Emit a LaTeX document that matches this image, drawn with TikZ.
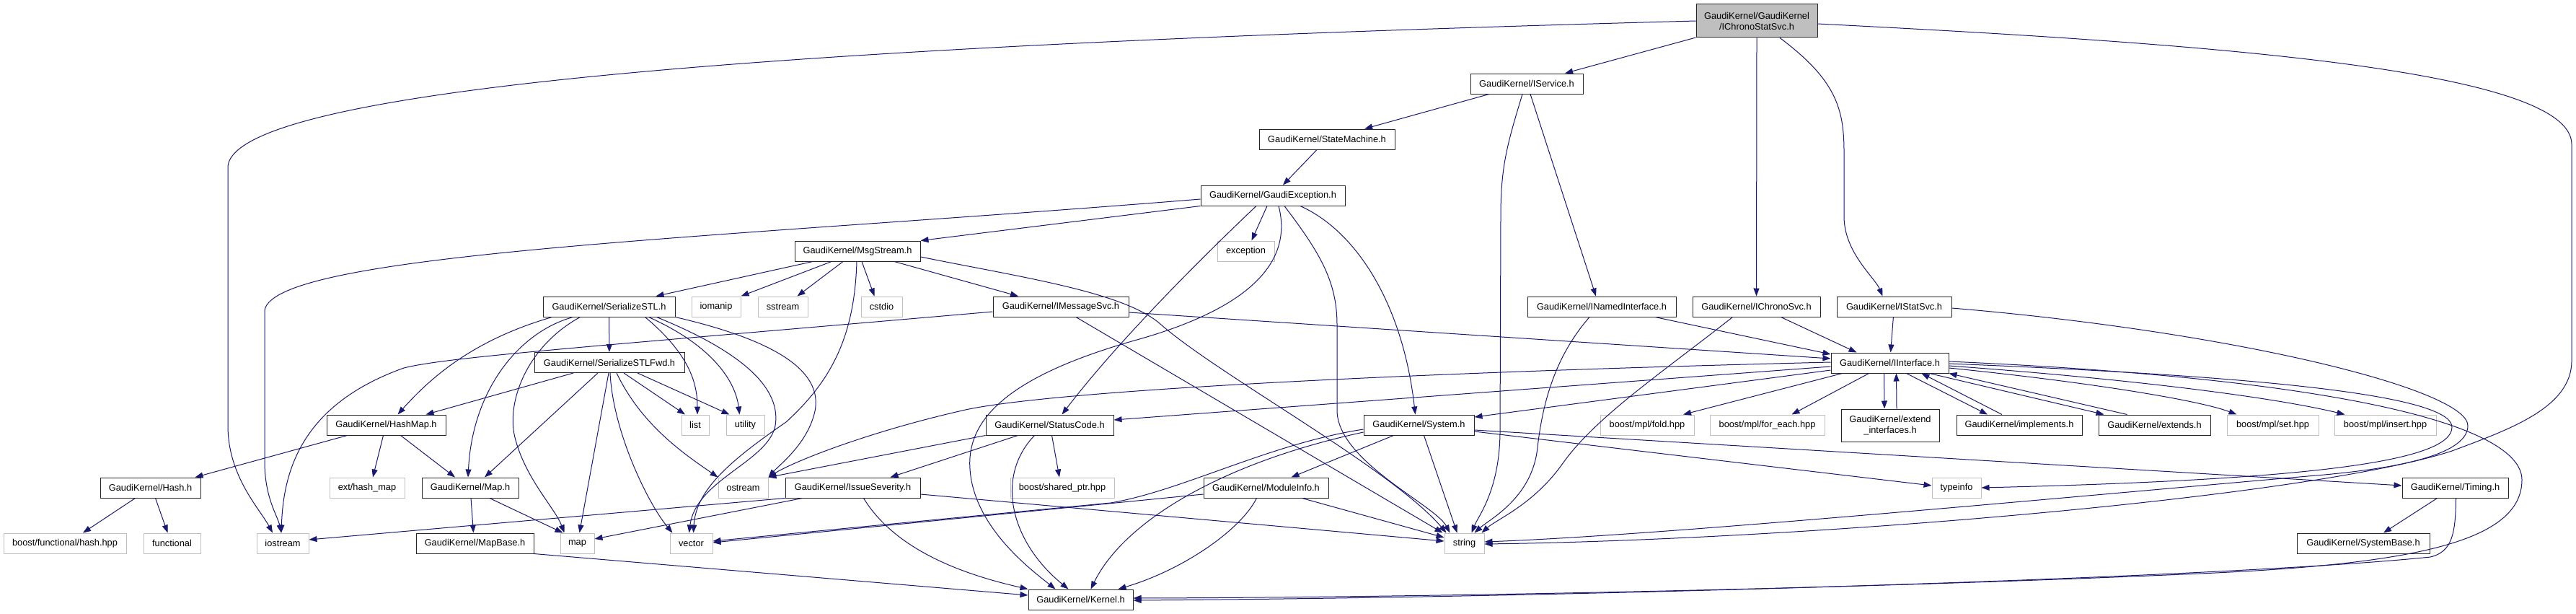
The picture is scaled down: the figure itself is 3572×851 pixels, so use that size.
\documentclass[tikz,border=0pt]{standalone}
\usepackage{fontspec}
\setmainfont{Liberation Sans}
\usetikzlibrary{arrows.meta}
\definecolor{edgec}{HTML}{191970}
\definecolor{grayb}{HTML}{BFBFBF}
\begin{document}
\begin{tikzpicture}[x=1pt,y=-1pt,
  font=\fontsize{12.8}{15}\selectfont,
  gk/.style={draw=black!85,line width=1pt,fill=white,rectangle,inner sep=0pt,minimum height=28pt,align=center},
  sys/.style={draw=grayb,line width=1pt,fill=white,rectangle,inner sep=0pt,minimum height=28pt,align=center},
  topn/.style={gk,fill=grayb,minimum height=46pt},
  e/.style={draw=edgec,line width=1pt,-{Triangle[length=11pt,width=8pt]}}]
\useasboundingbox[fill=white] (0,0) rectangle (3572,851);
% ---- nodes
\node[topn,minimum width=168pt] (top) at (2436,29) {GaudiKernel/GaudiKernel\\/IChronoStatSvc.h};
\node[gk,minimum width=156pt] (IService) at (2117,116) {GaudiKernel/IService.h};
\node[gk,minimum width=188pt] (StateMachine) at (1840,193) {GaudiKernel/StateMachine.h};
\node[gk,minimum width=200pt] (GaudiException) at (1765,271) {GaudiKernel/GaudiException.h};
\node[gk,minimum width=174pt] (MsgStream) at (1189,348) {GaudiKernel/MsgStream.h};
\node[sys,minimum width=79pt] (exception) at (1727.5,348) {exception};
\node[gk,minimum width=183pt] (SerializeSTL) at (844.5,425) {GaudiKernel/SerializeSTL.h};
\node[sys,minimum width=68pt] (iomanip) at (993,425) {iomanip};
\node[sys,minimum width=69pt] (sstream) at (1085.5,425) {sstream};
\node[sys,minimum width=57pt] (cstdio) at (1222.5,425) {cstdio};
\node[gk,minimum width=188pt] (IMessageSvc) at (1471,425) {GaudiKernel/IMessageSvc.h};
\node[gk,minimum width=206pt] (INamedInterface) at (2221,425) {GaudiKernel/INamedInterface.h};
\node[gk,minimum width=177pt] (IChronoSvc) at (2435.5,425) {GaudiKernel/IChronoSvc.h};
\node[gk,minimum width=159pt] (IStatSvc) at (2626.5,425) {GaudiKernel/IStatSvc.h};
\node[gk,minimum width=208pt] (Fwd) at (845,502.5) {GaudiKernel/SerializeSTLFwd.h};
\node[gk,minimum width=163pt] (Interface) at (2620.5,503) {GaudiKernel/IInterface.h};
\node[gk,minimum width=165pt] (HashMap) at (535.5,589) {GaudiKernel/HashMap.h};
\node[sys,minimum width=38pt] (list) at (964,589) {list};
\node[sys,minimum width=53pt] (utility) at (1033.5,589) {utility};
\node[gk,minimum width=177pt] (StatusCode) at (1455.5,589) {GaudiKernel/StatusCode.h};
\node[gk,minimum width=153pt] (System) at (1967.5,589) {GaudiKernel/System.h};
\node[sys,minimum width=130pt] (fold) at (2284,589) {boost/mpl/fold.hpp};
\node[sys,minimum width=159pt] (foreach) at (2450.5,589) {boost/mpl/for\_each.hpp};
\node[gk,minimum width=136pt,minimum height=45pt] (extendif) at (2621,589.5) {GaudiKernel/extend\\\_interfaces.h};
\node[gk,minimum width=174pt] (implements) at (2800,589) {GaudiKernel/implements.h};
\node[gk,minimum width=155pt] (extends) at (2987.5,589) {GaudiKernel/extends.h};
\node[sys,minimum width=127pt] (set) at (3151.5,589) {boost/mpl/set.hpp};
\node[sys,minimum width=141pt] (insert) at (3307.5,589) {boost/mpl/insert.hpp};
\node[gk,minimum width=139pt] (Hash) at (208.5,676) {GaudiKernel/Hash.h};
\node[sys,minimum width=104pt] (exthashmap) at (509,676) {ext/hash\_map};
\node[gk,minimum width=134pt] (Map) at (652,676) {GaudiKernel/Map.h};
\node[sys,minimum width=69pt] (ostream) at (1030.5,676) {ostream};
\node[gk,minimum width=187pt] (IssueSeverity) at (1182.5,676) {GaudiKernel/IssueSeverity.h};
\node[sys,minimum width=144pt] (sharedptr) at (1473,676) {boost/shared\_ptr.hpp};
\node[gk,minimum width=173pt] (ModuleInfo) at (1755.5,676) {GaudiKernel/ModuleInfo.h};
\node[sys,minimum width=68pt] (typeinfo) at (2713,676) {typeinfo};
\node[gk,minimum width=147pt] (Timing) at (3404.5,676) {GaudiKernel/Timing.h};
\node[sys,minimum width=170pt] (boosthash) at (90,753) {boost/functional/hash.hpp};
\node[sys,minimum width=79pt] (functional) at (238.5,753) {functional};
\node[sys,minimum width=72pt] (iostream) at (392,753) {iostream};
\node[gk,minimum width=163pt] (MapBase) at (658.5,753) {GaudiKernel/MapBase.h};
\node[sys,minimum width=47pt] (map) at (800.5,753) {map};
\node[sys,minimum width=59pt] (vector) at (958.5,753) {vector};
\node[sys,minimum width=55pt] (string) at (2030.5,753) {string};
\node[gk,minimum width=184pt] (SystemBase) at (3277,753) {GaudiKernel/SystemBase.h};
\node[gk,minimum width=145pt] (Kernel) at (1498.5,831) {GaudiKernel/Kernel.h};
% ---- edges
\draw[e] (top) -- (IService);
\draw[e] (top.south) -- (IChronoSvc.north);
\draw[e] ([xshift=32]top.south) .. controls (2545,110) and (2557,150) .. (2557,210) -- (2557,300) .. controls (2557,350) and (2600,385) .. ([xshift=-16]IStatSvc.north);
\draw[e] (top.west) .. controls (1200,60) and (330,115) .. (316,230) -- (316,590) .. controls (316,660) and (360,705) .. ([xshift=-14]iostream.north);
\draw[e] ([yshift=-4]top.east) .. controls (3050,60) and (3566,95) .. (3566,200) -- (3566,500) .. controls (3566,565) and (3480,595) .. (3400,625) .. controls (3200,690) and (2500,748) .. ([yshift=-1]string.east);
\draw[e] (IService) -- (StateMachine);
\draw[e] ([xshift=-6]IService.south) .. controls (2090,200) and (2081,230) .. (2081,300) -- (2080,600) .. controls (2079,680) and (2050,715) .. ([xshift=10]string.north);
\draw[e] ([xshift=5]IService.south) -- ([xshift=-8]INamedInterface.north);
\draw[e] (StateMachine) -- (GaudiException);
\draw[e] ([yshift=-5]GaudiException.west) .. controls (1000,330) and (380,350) .. (367,430) -- (367,640) .. controls (367,690) and (385,715) .. ([xshift=-2]iostream.north);
\draw[e] (GaudiException.south west) -- (MsgStream.north east);
\draw[e] ([xshift=-8]GaudiException.south) -- ([xshift=8]exception.north);
\draw[e] ([xshift=-23]GaudiException.south) .. controls (1695,330) and (1560,460) .. ([xshift=17]StatusCode.north);
\draw[e] ([xshift=8]GaudiException.south) .. controls (1795,370) and (1720,430) .. (1580,470) .. controls (1400,520) and (1340,580) .. (1345,650) .. controls (1350,730) and (1430,790) .. ([xshift=-35]Kernel.north);
\draw[e] ([xshift=16]GaudiException.south) .. controls (1830,350) and (1854,390) .. (1854,450) -- (1854,570) .. controls (1856,640) and (1990,700) .. ([xshift=-20]string.north);
\draw[e] ([xshift=38]GaudiException.south) .. controls (1880,320) and (1945,420) .. ([xshift=-5]System.north);
\draw[e] ([xshift=-62]MsgStream.south) -- ([xshift=65]SerializeSTL.north);
\draw[e] ([xshift=-36]MsgStream.south) -- (iomanip.north east);
\draw[e] ([xshift=-20]MsgStream.south) -- ([xshift=20]sstream.north);
\draw[e] ([xshift=6]MsgStream.south) -- ([xshift=-10]cstdio.north);
\draw[e] ([xshift=51]MsgStream.south) -- ([xshift=-59]IMessageSvc.north);
\draw[e] ([yshift=-8]MsgStream.east) .. controls (1420,385) and (1560,405) .. (1610,450) .. controls (1690,520) and (1930,650) .. ([xshift=-25]string.north);
\draw[e] ([xshift=-1]MsgStream.south) .. controls (1185,470) and (1150,530) .. (1090,585) .. controls (1010,640) and (965,680) .. ([xshift=3]vector.north);
\draw[e] (SerializeSTL) -- (Fwd);
\draw[e] ([xshift=-79]SerializeSTL.south) .. controls (660,470) and (600,520) .. ([xshift=16]HashMap.north);
\draw[e] ([xshift=-50]SerializeSTL.south) .. controls (720,460) and (655,540) .. ([xshift=-3]Map.north);
\draw[e] ([xshift=-40]SerializeSTL.south) .. controls (730,480) and (700,560) .. (715,610) .. controls (730,665) and (770,705) .. ([xshift=-18]map.north);
\draw[e] ([xshift=50]SerializeSTL.south) .. controls (955,490) and (967,530) .. ([xshift=3]list.north);
\draw[e] ([xshift=55]SerializeSTL.south) .. controls (990,480) and (1020,530) .. ([xshift=-8]utility.north);
\draw[e] ([xshift=66]SerializeSTL.south) .. controls (1010,480) and (1085,530) .. (1075,590) .. controls (1065,640) and (965,665) .. ([xshift=-3]vector.north);
\draw[e] (SerializeSTL.south east) .. controls (1090,475) and (1140,520) .. (1130,570) .. controls (1120,615) and (1080,645) .. (ostream.north east);
\draw[e] ([xshift=-50]Fwd.south) -- ([xshift=55]HashMap.north);
\draw[e] ([xshift=-16]Fwd.south) -- ([xshift=20]Map.north);
\draw[e] ([xshift=-1]Fwd.south) -- ([xshift=3]map.north);
\draw[e] ([xshift=1]Fwd.south) .. controls (850,600) and (900,700) .. ([xshift=-26]vector.north);
\draw[e] ([xshift=10]Fwd.south) .. controls (890,590) and (950,630) .. (ostream.north west);
\draw[e] ([xshift=20]Fwd.south) -- ([xshift=-14]list.north);
\draw[e] ([xshift=39]Fwd.south) -- ([xshift=-22]utility.north);
\draw[e] ([xshift=-54]HashMap.south) -- ([xshift=62]Hash.north);
\draw[e] ([xshift=-4]HashMap.south) -- ([xshift=8]exthashmap.north);
\draw[e] ([xshift=20]HashMap.south) -- ([xshift=-21]Map.north);
\draw[e] ([xshift=-21]Hash.south) -- ([xshift=25]boosthash.north);
\draw[e] ([xshift=7]Hash.south) -- ([xshift=-6]functional.north);
\draw[e] ([xshift=1]Map.south) -- ([xshift=-2]MapBase.north);
\draw[e] ([xshift=27]Map.south) -- ([xshift=-20]map.north);
\draw[e] (MapBase.south east) -- ([yshift=6]Kernel.west);
\draw[e] ([yshift=-7]IMessageSvc.west) .. controls (800,482) and (620,495) .. (560,510) .. controls (420,560) and (393,650) .. ([xshift=-2]iostream.north);
\draw[e] ([xshift=21]IMessageSvc.south) -- ([xshift=-30]string.north);
\draw[e] ([yshift=-8]IMessageSvc.east) -- ([yshift=6]Interface.west);
\draw[e] (IssueSeverity.south west) -- ([yshift=5]iostream.east);
\draw[e] ([xshift=-70]IssueSeverity.south) -- ([yshift=6]map.east);
\draw[e] ([xshift=15]IssueSeverity.south) .. controls (1240,760) and (1330,795) .. (Kernel.north west);
\draw[e] ([yshift=-9]IssueSeverity.east) -- ([yshift=3]string.west);
\draw[e] (StatusCode.south west) -- (ostream.north east);
\draw[e] ([xshift=-44]StatusCode.south) -- ([xshift=52]IssueSeverity.north);
\draw[e] ([xshift=-21]StatusCode.south) .. controls (1380,660) and (1400,750) .. ([xshift=-17]Kernel.north);
\draw[e] ([xshift=3]StatusCode.south) -- ([xshift=-4]sharedptr.north);
\draw[e] ([yshift=-6]System.west) .. controls (1760,615) and (1640,680) .. (1540,697) -- ([yshift=3]vector.east);
\draw[e] ([yshift=-10]System.west) .. controls (1700,640) and (1560,720) .. ([xshift=14]Kernel.north);
\draw[e] ([xshift=-35]System.south) -- ([xshift=35]ModuleInfo.north);
\draw[e] ([xshift=7]System.south) -- ([xshift=-10]string.north);
\draw[e] ([yshift=-9]System.east) -- ([yshift=3]typeinfo.west);
\draw[e] ([yshift=-7]System.east) -- ([yshift=3]Timing.west);
\draw[e] ([yshift=-9]ModuleInfo.west) -- ([yshift=1]vector.east);
\draw[e] ([xshift=-13]ModuleInfo.south) .. controls (1720,735) and (1640,790) .. ([xshift=52]Kernel.north);
\draw[e] ([xshift=50]ModuleInfo.south) -- ([yshift=8]string.west);
\draw[e] ([xshift=74]INamedInterface.south) -- ([yshift=12]Interface.west);
\draw[e] ([xshift=-17]INamedInterface.south) .. controls (2160,490) and (2140,550) .. (2132,620) .. controls (2125,690) and (2065,720) .. ([xshift=14]string.north);
\draw[e] ([xshift=34]IChronoSvc.south) -- ([xshift=-46]Interface.north);
\draw[e] ([xshift=-33]IChronoSvc.south) .. controls (2300,520) and (2210,580) .. (2165,645) .. controls (2125,700) and (2075,720) .. ([xshift=24]string.north);
\draw[e] (IStatSvc) -- (Interface);
\draw[e] ([yshift=-2]IStatSvc.east) .. controls (3100,460) and (3422,540) .. (3422,590) .. controls (3422,635) and (3300,652) .. (3200,660) .. controls (2800,695) and (2300,742) .. ([yshift=2]string.east);
\draw[e] ([yshift=1]Interface.west) .. controls (2000,515) and (1450,540) .. (1330,570) .. controls (1200,600) and (1100,640) .. (ostream.north east);
\draw[e] ([yshift=-5]Interface.west) -- ([yshift=7]StatusCode.east);
\draw[e] ([yshift=-10]Interface.west) -- ([yshift=11]System.east);
\draw[e] ([xshift=-66]Interface.south) -- ([xshift=50]fold.north);
\draw[e] ([xshift=-29]Interface.south) -- ([xshift=34]foreach.north);
\draw[e] ([xshift=-8]Interface.south) -- ([xshift=-8]extendif.north);
\draw[e] ([xshift=9]extendif.north) -- ([xshift=9]Interface.south);
\draw[e] ([xshift=23]Interface.south) -- ([xshift=-44]implements.north);
\draw[e] ([xshift=-24]implements.north) -- ([xshift=44]Interface.south);
\draw[e] ([xshift=55]Interface.south) -- ([xshift=-70]extends.north);
\draw[e] ([xshift=-38]extends.north) -- (Interface.south east);
\draw[e] ([yshift=-7]Interface.east) .. controls (2900,530) and (3050,555) .. ([xshift=-50]set.north);
\draw[e] ([yshift=-4]Interface.east) .. controls (2950,525) and (3150,550) .. ([xshift=-56]insert.north);
\draw[e] ([yshift=-1]Interface.east) .. controls (3100,520) and (3400,545) .. (3400,592) .. controls (3400,640) and (3200,665) .. (typeinfo.east);
\draw[e] ([yshift=2]Interface.east) .. controls (3250,525) and (3497,590) .. (3497,665) .. controls (3497,750) and (3350,782) .. (3050,795) .. controls (2600,815) and (2000,828) .. ([yshift=2]Kernel.east);
\draw[e] ([xshift=-25]Timing.south) -- ([xshift=28]SystemBase.north);
\draw[e] ([xshift=1]Timing.south) .. controls (3405,740) and (3400,765) .. (3370,772) .. controls (3100,800) and (2200,828) .. ([yshift=-1]Kernel.east);
\end{tikzpicture}
\end{document}
